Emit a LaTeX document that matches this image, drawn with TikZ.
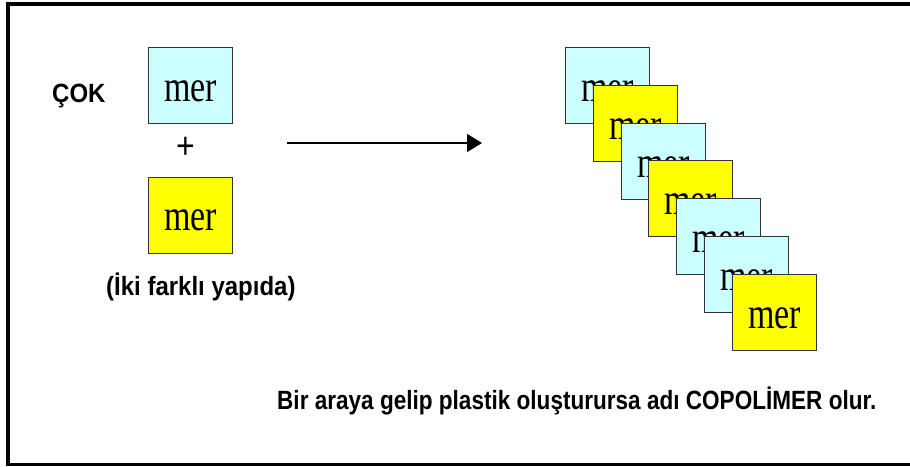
\documentclass[tikz,border=0pt]{standalone}
\usepackage{fontspec}
\setmainfont{Liberation Serif}
\newfontfamily\arialfont{Liberation Sans}
\newfontfamily\arialbold{Liberation Sans Bold}
\usetikzlibrary{arrows.meta,calc}
\definecolor{monocyan}{HTML}{CCFFFF}
\definecolor{monoyellow}{HTML}{FFFF00}
\tikzset{
  merbox/.style={draw=black!80, line width=0.9pt, minimum width=84pt,
    minimum height=76pt, inner sep=0pt, anchor=north west},
  cbox/.style={merbox, fill=monocyan},
  ybox/.style={merbox, fill=monoyellow},
  mertext/.style={anchor=base, inner sep=0pt, font=\fontsize{34}{34}\selectfont},
  caption/.style={inner sep=0pt, anchor=base west},
  frameline/.style={line width=3.6pt, line join=miter},
}
% tall, narrow lettering
\newcommand{\mertall}{\scalebox{1}[1.3]{mer}}
\newcommand{\tallsans}[2][1]{\scalebox{#1}[1.1]{\arialbold\fontsize{24}{26}\selectfont #2}}
\begin{document}
\begin{tikzpicture}[x=1pt,y=-1pt]
  % page area and white ground
  \path[fill=white, use as bounding box] (0,0) rectangle (910,466);

  % open frame: top, left and bottom edges
  \coordinate (ftr) at (910,4);
  \coordinate (ftl) at (8,4);
  \coordinate (fbl) at (8,464.5);
  \coordinate (fbr) at (910,464.5);
  \draw[frameline] (ftr) -- (ftl) -- (fbl) -- (fbr);

  % left: two different monomers
  \node[caption] (cok) at (52,102) {\tallsans{ÇOK}};
  \node[cbox] (m1) at (148,47) {};
  \node[mertext] (m1t) at ($(m1.north)+(0,54)$) {\mertall};
  \node[inner sep=0pt, font=\arialfont\fontsize{32}{32}\selectfont] (plus) at (185.5,148)
    {\scalebox{1}[1.15]{+}};
  \node[ybox] (m2) at (148,177) {};
  \node[mertext] (m2t) at ($(m2.north)+(0,53)$) {\mertall};
  \node[caption] (iki) at (106,295) {\tallsans{(İki farklı yapıda)}};

  % arrow towards the copolymer chain
  \coordinate (a0) at (287,143);
  \coordinate (a1) at (482,143);
  \draw[line width=1.3pt, -{Triangle[length=15pt,width=18pt]}] (a0) -- (a1);

  % right: overlapping chain of alternating monomers
  \foreach \i/\x/\y/\s in {1/565/47/cbox, 2/593/85/ybox, 3/621/123/cbox,
      4/648/160/ybox, 5/676/198/cbox, 6/704/236/cbox, 7/732/274/ybox} {
    \node[\s] (r\i) at (\x,\y) {};
    \node[mertext] (rt\i) at ($(r\i.north)+(0,54)$) {\mertall};
  }

  % closing sentence
  \node[caption] (note) at (277,409)
    {\tallsans[0.94]{Bir araya gelip plastik oluşturursa adı COPOLİMER olur.}};
\end{tikzpicture}
\end{document}
